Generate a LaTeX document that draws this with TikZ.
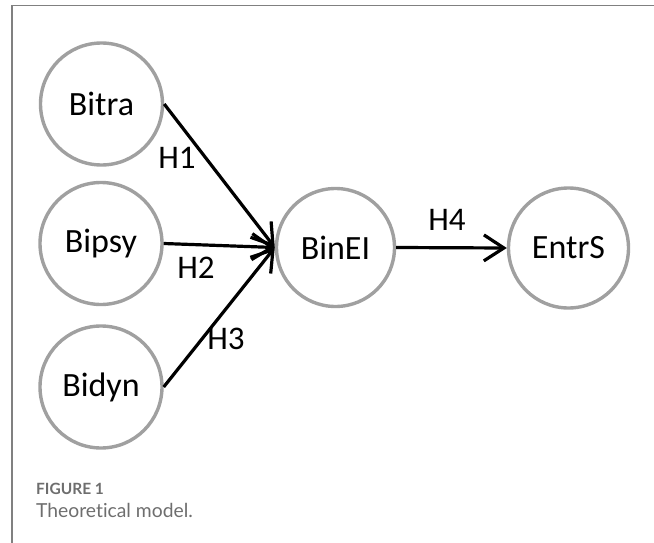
\documentclass[tikz,border=0pt]{standalone}
\usepackage{fontspec}
\setmainfont{Carlito}
\newfontfamily\capfont[Ligatures={NoCommon}]{Lato}
\usetikzlibrary{arrows.meta}
\definecolor{ringgray}{RGB}{160,160,160}
\definecolor{framegray}{RGB}{128,128,128}
\definecolor{capgray}{RGB}{110,110,110}
\begin{document}
\begin{tikzpicture}[x=1pt,y=-1pt,
  construct/.style={circle,draw=ringgray,line width=3.4pt,minimum size=122pt,inner sep=0pt,font=\fontsize{34}{38}\selectfont},
  path/.style={draw=black,line width=3.2pt,-{Straight Barb[length=20pt,width=26pt,line width=3.2pt]}},
  hlabel/.style={font=\fontsize{33}{36}\selectfont}]
\useasboundingbox (0,0) rectangle (654,543);
\draw[framegray,line width=1.8pt] (654,5.5) -- (12,5.5) -- (12,543);
\node[construct] (bitra) at (101.5,104) {Bitra};
\node[construct] (bipsy) at (101,243.5) {Bipsy};
\node[construct] (bidyn) at (101,387) {Bidyn};
\node[construct,minimum size=118pt] (binei) at (335.5,247.5) {BinEI};
\node[construct,minimum size=120pt] (entrs) at (568.5,248) {EntrS};
\draw[path] (bitra.east) -- (binei.west);
\draw[path] (bipsy.east) -- (binei.west);
\draw[path] (bidyn.east) -- (binei.west);
\draw[path] (binei.east) -- (entrs.west);
\node[hlabel] (h1) at (177,158) {H1};
\node[hlabel] (h2) at (196,268) {H2};
\node[hlabel] (h3) at (226,339) {H3};
\node[hlabel] (h4) at (447,220) {H4};
\node[anchor=base west,inner sep=0pt,text=capgray,font=\capfont\bfseries\fontsize{15.5}{17}\selectfont] (fig) at (36,494) {FIGURE 1};
\node[anchor=base west,inner sep=0pt,text=capgray,font=\capfont\fontsize{19.3}{21}\selectfont] (cap) at (36,517) {Theoretical model.};
\end{tikzpicture}
\end{document}
